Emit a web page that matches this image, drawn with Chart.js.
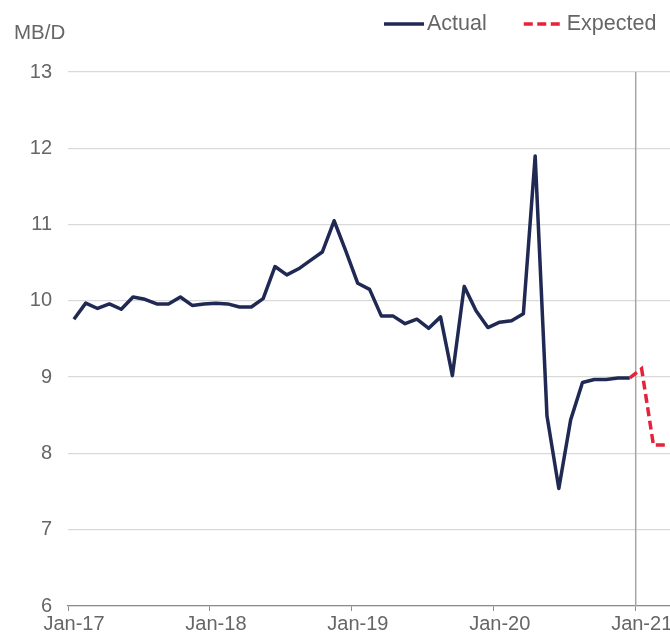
<!DOCTYPE html>
<html>
<head>
<meta charset="utf-8">
<script src="https://cdn.jsdelivr.net/npm/chart.js@4.4.1/dist/chart.umd.min.js"></script>
<style>
  html, body { margin: 0; padding: 0; background: #fff; overflow: hidden; }
  #wrap { position: relative; width: 670px; height: 635px; }
</style>
</head>
<body>
<div id="wrap"><canvas id="c" width="670" height="635"></canvas></div>
<script>
// Monthly output, million barrels per day, Jan-17 .. Dec-20
const yUnit = 'MB/D';
const yearLabels = ['Jan-17', 'Jan-18', 'Jan-19', 'Jan-20', 'Jan-21'];
const actual = [
  9.76, 9.97, 9.90, 9.96, 9.89, 10.05, 10.02, 9.96, 9.96, 10.05, 9.94, 9.96,
  9.97, 9.96, 9.92, 9.92, 10.03, 10.45, 10.34, 10.42, 10.53, 10.64, 11.05, 10.65,
  10.23, 10.15, 9.80, 9.80, 9.70, 9.76, 9.64, 9.79, 9.02, 10.19, 9.87, 9.65,
  9.72, 9.74, 9.83, 11.90, 8.49, 7.54, 8.44, 8.93, 8.97, 8.97, 8.99, 8.99
];
// Outlook, Dec-20 .. Mar-21
const expected = [8.99, 9.11, 8.11, 8.11];
const expectedStartMonth = 47;   // Dec-20
const dividerMonth = 48;         // Jan-21
const yMin = 6, yMax = 13;

const FONT = '"Liberation Sans", Arial, Helvetica, sans-serif';
const TEXT = '#666666';

// points sit in the middle of their month
const toPoints = (vals, start) => vals.map((v, i) => ({ x: start + i + 0.5, y: v }));

const headerText = {
  id: 'headerText',
  afterDraw(chart) {
    const ctx = chart.ctx;
    ctx.save();
    ctx.fillStyle = TEXT;
    ctx.textBaseline = 'middle';
    ctx.textAlign = 'left';
    ctx.font = '20.5px ' + FONT;
    ctx.fillText(yUnit, 14, 33);

    ctx.font = '21.5px ' + FONT;
    let x = 384;
    const y = 24;
    chart.data.datasets.forEach(ds => {
      if (!ds.label) return;
      ctx.save();
      ctx.strokeStyle = ds.borderColor;
      ctx.lineWidth = ds.borderWidth;
      ctx.setLineDash(ds.borderDash || []);
      ctx.beginPath();
      ctx.moveTo(x, y);
      ctx.lineTo(x + 40, y);
      ctx.stroke();
      ctx.restore();
      ctx.fillStyle = TEXT;
      ctx.fillText(ds.label, x + 43, y);
      x += 43 + ctx.measureText(ds.label).width + 37;
    });
    ctx.restore();
  }
};

new Chart(document.getElementById('c'), {
  type: 'line',
  data: {
    datasets: [
      {
        label: 'Actual',
        data: toPoints(actual, 0),
        borderColor: '#1f2953',
        borderWidth: 3.5,
        pointRadius: 0,
        tension: 0,
        borderJoinStyle: 'round',
        order: 2
      },
      {
        label: 'Expected',
        data: toPoints(expected, expectedStartMonth),
        borderColor: '#e8213b',
        borderWidth: 3.5,
        borderDash: [9, 4.5],
        pointRadius: 0,
        tension: 0,
        order: 1
      },
      {
        label: '',
        data: [{ x: dividerMonth, y: yMin }, { x: dividerMonth, y: yMax }],
        borderColor: '#a6a6a6',
        borderWidth: 1.5,
        pointRadius: 0,
        order: 3
      }
    ]
  },
  options: {
    responsive: false,
    animation: false,
    layout: { padding: { top: 72, right: 0, bottom: 0, left: 0 } },
    plugins: {
      legend: { display: false },
      tooltip: { enabled: false },
      title: { display: false }
    },
    scales: {
      x: {
        type: 'linear',
        min: 0,
        max: 50.9,
        afterBuildTicks(scale) {
          scale.ticks = yearLabels.map((_, i) => ({ value: i * 12 }));
        },
        afterFit(scale) { scale.height = 29; },
        ticks: {
          autoSkip: false,
          maxRotation: 0,
          padding: 1,
          labelOffset: 6,
          color: TEXT,
          font: { family: FONT, size: 20 },
          callback: v => yearLabels[Math.round(v / 12)]
        },
        grid: {
          display: true,
          drawOnChartArea: false,
          drawTicks: true,
          tickLength: 5,
          color: '#8c8c8c',
          lineWidth: 1
        },
        border: { display: true, color: '#8c8c8c', width: 1.2 }
      },
      y: {
        min: yMin,
        max: yMax,
        afterFit(scale) { scale.width = 68; },
        ticks: {
          stepSize: 1,
          padding: 16,
          color: TEXT,
          font: { family: FONT, size: 20 }
        },
        grid: {
          color: '#d9d9d9',
          lineWidth: 1.3,
          drawTicks: false
        },
        border: { display: false }
      }
    }
  },
  plugins: [headerText]
});
</script>
</body>
</html>
